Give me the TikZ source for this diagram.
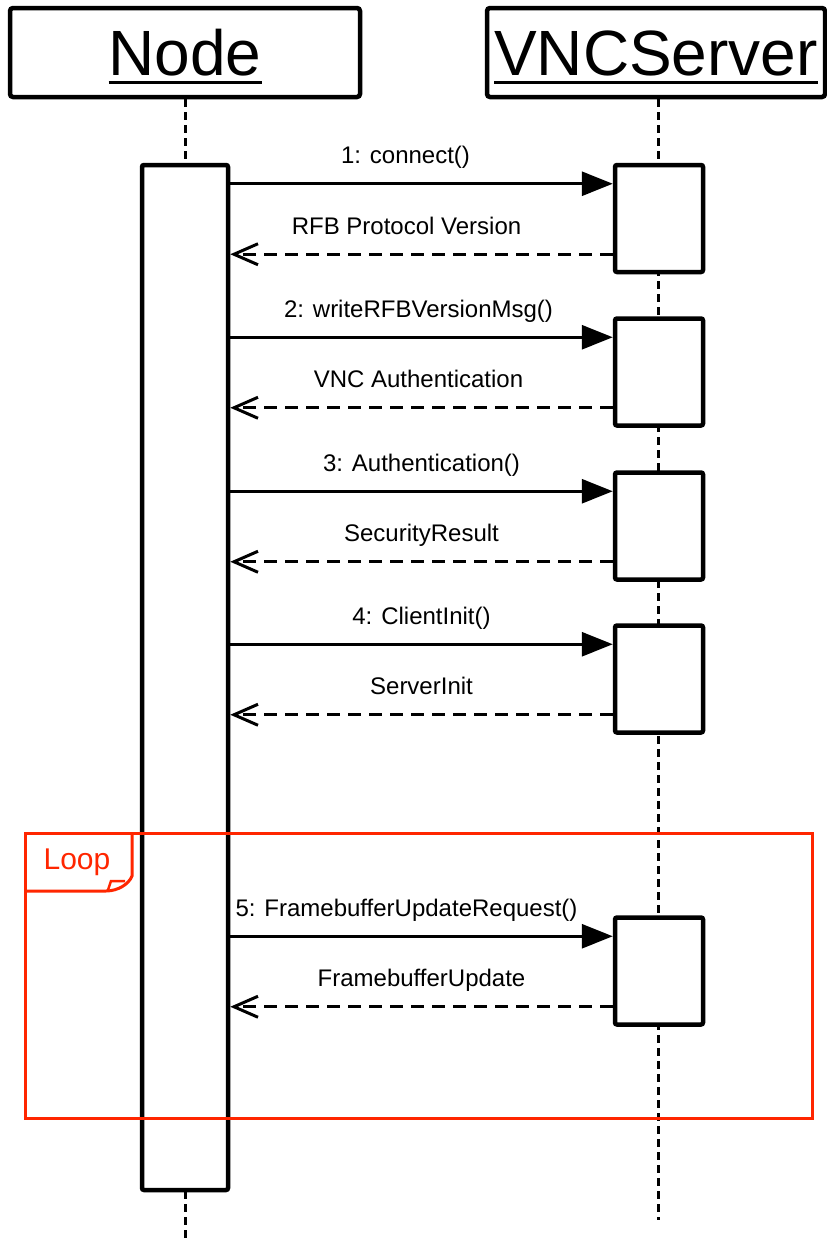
\documentclass[tikz,border=0pt]{standalone}
\usepackage{fontspec}
\setmainfont{Liberation Sans}
\usetikzlibrary{arrows.meta,positioning}
\definecolor{loopred}{RGB}{255,38,0}
\newcommand{\headul}[1]{\vtop{\hbox{#1}\kern5pt\hrule height 3pt}}

\begin{document}
\begin{tikzpicture}[
  x=1pt, y=-1pt,
  header/.style={draw, line width=4.5pt, rounded corners=3pt,
                 minimum width=350pt, minimum height=89pt,
                 text height=53pt, text depth=8pt,
                 inner sep=0pt, font=\fontsize{64}{70}\selectfont},
  activation/.style={draw, fill=white, line width=4.5pt, rounded corners=2pt,
                     minimum width=86pt, inner sep=0pt},
  lifeline/.style={line width=3pt, dash pattern=on 8pt off 5pt},
  call/.style={line width=3pt, -{Triangle[length=31pt,width=24pt]}},
  reply/.style={line width=3pt, dash pattern=on 13pt off 8pt,
                -{Straight Barb[length=24pt,width=21pt]}},
  msg/.style={font=\fontsize{24}{28}\selectfont, anchor=base, yshift=20pt},
  loopframe/.style={draw=loopred, line width=3pt}
]
\useasboundingbox (0,0) rectangle (827,1242);

\node[header] (nodehead) at (185,52.5) {\headul{Node}};
\node[header, minimum width=338pt] (vnchead) at (656,52.5) {\headul{VNCServer}};

\coordinate (nodeend) at (185,1242);
\coordinate (vncend) at (658,1220);
\draw[lifeline] (nodehead.south) -- (nodeend);
\draw[lifeline] (vnchead.south -| vncend) -- (vncend);

\node[activation, minimum height=1025pt] (nodeact) at (185,677.5) {};
\node[activation, minimum width=88pt, minimum height=107pt] (srv1) at (659,218.5) {};
\node[activation, minimum width=88pt, minimum height=107pt] (srv2) at (659,372) {};
\node[activation, minimum width=88pt, minimum height=107pt] (srv3) at (659,526) {};
\node[activation, minimum width=88pt, minimum height=107pt] (srv4) at (659,679) {};
\node[activation, minimum width=88pt, minimum height=107pt] (srv5) at (659,971) {};

\coordinate (in1) at ([yshift=-21pt]srv1.north west);
\coordinate (out1) at ([yshift=20pt]srv1.south west);
\draw[call] (nodeact.east |- in1) -- node[msg, xshift=-16pt] {1: connect()} (in1);
\draw[reply] (out1) -- node[msg, xshift=-15pt] {RFB Protocol Version} (nodeact.east |- out1);

\coordinate (in2) at ([yshift=-21pt]srv2.north west);
\coordinate (out2) at ([yshift=20pt]srv2.south west);
\draw[call] (nodeact.east |- in2) -- node[msg, xshift=-3pt] {2: writeRFBVersionMsg()} (in2);
\draw[reply] (out2) -- node[msg, xshift=-3pt] {VNC Authentication} (nodeact.east |- out2);

\coordinate (in3) at ([yshift=-21pt]srv3.north west);
\coordinate (out3) at ([yshift=20pt]srv3.south west);
\draw[call] (nodeact.east |- in3) -- node[msg] {3: Authentication()} (in3);
\draw[reply] (out3) -- node[msg] {SecurityResult} (nodeact.east |- out3);

\coordinate (in4) at ([yshift=-21pt]srv4.north west);
\coordinate (out4) at ([yshift=20pt]srv4.south west);
\draw[call] (nodeact.east |- in4) -- node[msg] {4: ClientInit()} (in4);
\draw[reply] (out4) -- node[msg] {ServerInit} (nodeact.east |- out4);

\coordinate (in5) at ([yshift=-21pt]srv5.north west);
\coordinate (out5) at ([yshift=20pt]srv5.south west);
\draw[call] (nodeact.east |- in5) -- node[msg, xshift=-15pt] {5: FramebufferUpdateRequest()} (in5);
\draw[reply] (out5) -- node[msg] {FramebufferUpdate} (nodeact.east |- out5);

\node[loopframe, minimum width=787pt, minimum height=285pt, inner sep=0pt] (loop) at (418.5,975.5) {};
\node[font=\fontsize{30}{34}\selectfont, text=loopred] (looplabel) at (77,862) {Loop};
\draw[loopframe] (25,891) -- (106,891) .. controls (118,891) and (129,884) .. (132,876) -- (132,833);
\draw[loopframe, line width=2.5pt] (108,890) -- (111,881) -- (125,881);

\end{tikzpicture}
\end{document}
